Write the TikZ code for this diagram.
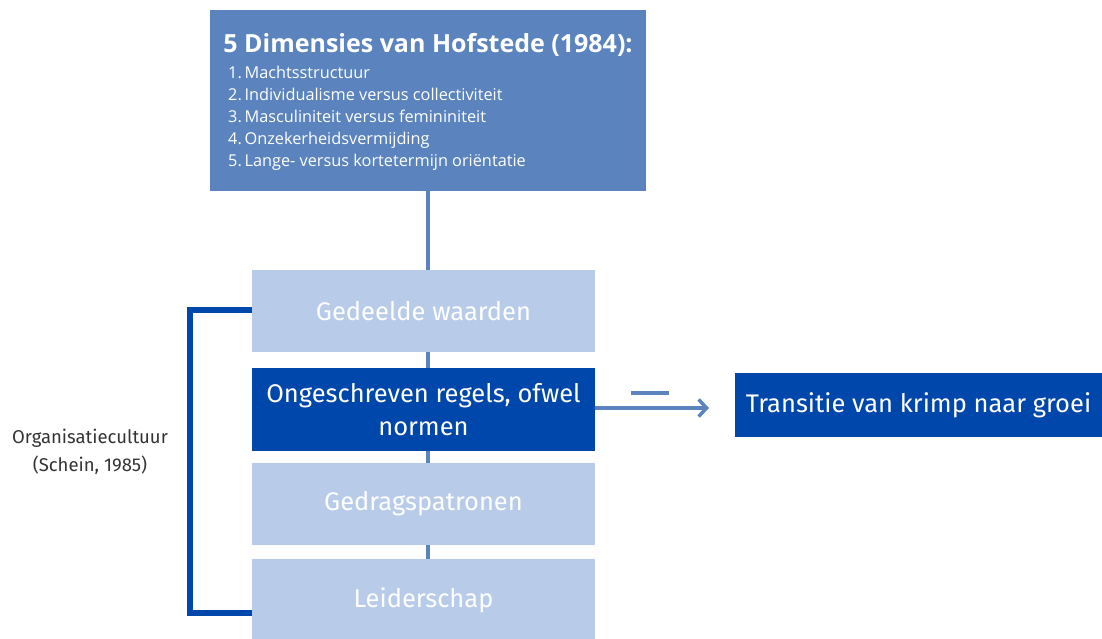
\documentclass[tikz,border=0pt]{standalone}
\usepackage{fontspec}
\setmainfont{Open Sans}
\newfontfamily\fira{Fira Sans}
\usetikzlibrary{arrows.meta}
\definecolor{midblue}{HTML}{5B84BE}
\definecolor{darkblue}{HTML}{0047AB}
\definecolor{lightblue}{HTML}{B8CCEA}
\definecolor{labelgray}{HTML}{333333}
\begin{document}
\begin{tikzpicture}[x=1pt,y=-1pt,
  lightbox/.style={fill=lightblue,inner sep=0pt,text=white,font=\fira\fontsize{25.5}{30}\selectfont,align=center},
  darkbox/.style={fill=darkblue,inner sep=0pt,text=white,font=\fira\fontsize{25.5}{33}\selectfont,align=center},
  conn/.style={draw=midblue,line width=4pt},
  bracket/.style={draw=darkblue,line width=6pt}]
\useasboundingbox (0,0) rectangle (1102,639);
% top box
\fill[midblue] (210,10) rectangle (646,191);
\node[anchor=center,text=white,font=\bfseries\fontsize{25}{28}\selectfont,inner sep=0pt] (title) at (428,45) {5 Dimensies van Hofstede (1984):};
\coordinate (topb) at (428,191);
\node[anchor=north west,text=white,font=\fontsize{16.3}{22}\selectfont,align=left,inner sep=0pt] (list) at (228,66) {%
1.\,Machtsstructuur\\
2.\,Individualisme versus collectiviteit\\
3.\,Masculiniteit versus femininiteit\\
4.\,Onzekerheidsvermijding\\
5.\,Lange- versus kortetermijn oriëntatie};
% connector (behind boxes)
\coordinate (lowb) at (428,600);
\draw[conn] (topb) -- (lowb);
% boxes
\node[lightbox,minimum width=343pt,minimum height=82pt] (b1) at (423.5,311) {Gedeelde waarden};
\node[darkbox,minimum width=343pt,minimum height=83pt] (b2) at (423.5,409.5) {Ongeschreven regels, ofwel\\normen};
\node[lightbox,minimum width=343pt,minimum height=82pt] (b3) at (423.5,504) {Gedragspatronen};
\node[lightbox,minimum width=343pt,minimum height=82pt] (b4) at (423.5,600) {Leiderschap};
% bracket
\coordinate (br1) at (190,310);
\coordinate (br2) at (190,613);
\draw[bracket] (b1.west |- br1) -- (br1) -- (br2) -- (b4.west |- br2);
\node[text=labelgray,font=\fira\fontsize{18.5}{28}\selectfont,align=center,inner sep=0pt] (lab) at (90,452) {Organisatiecultuur\\(Schein, 1985)};
% right box
\node[darkbox,minimum width=367pt,minimum height=64pt] (tr) at (918.5,405) {Transitie van krimp naar groei};
\coordinate (arrend) at (709,408);
\draw[draw=midblue,line width=3.5pt,-{Straight Barb[length=8pt,width=17pt]}] (b2.east |- arrend) -- (arrend);
\coordinate (d1) at (631,393);
\coordinate (d2) at (669,393);
\draw[draw=midblue,line width=4pt] (d1) -- (d2);
\end{tikzpicture}
\end{document}
